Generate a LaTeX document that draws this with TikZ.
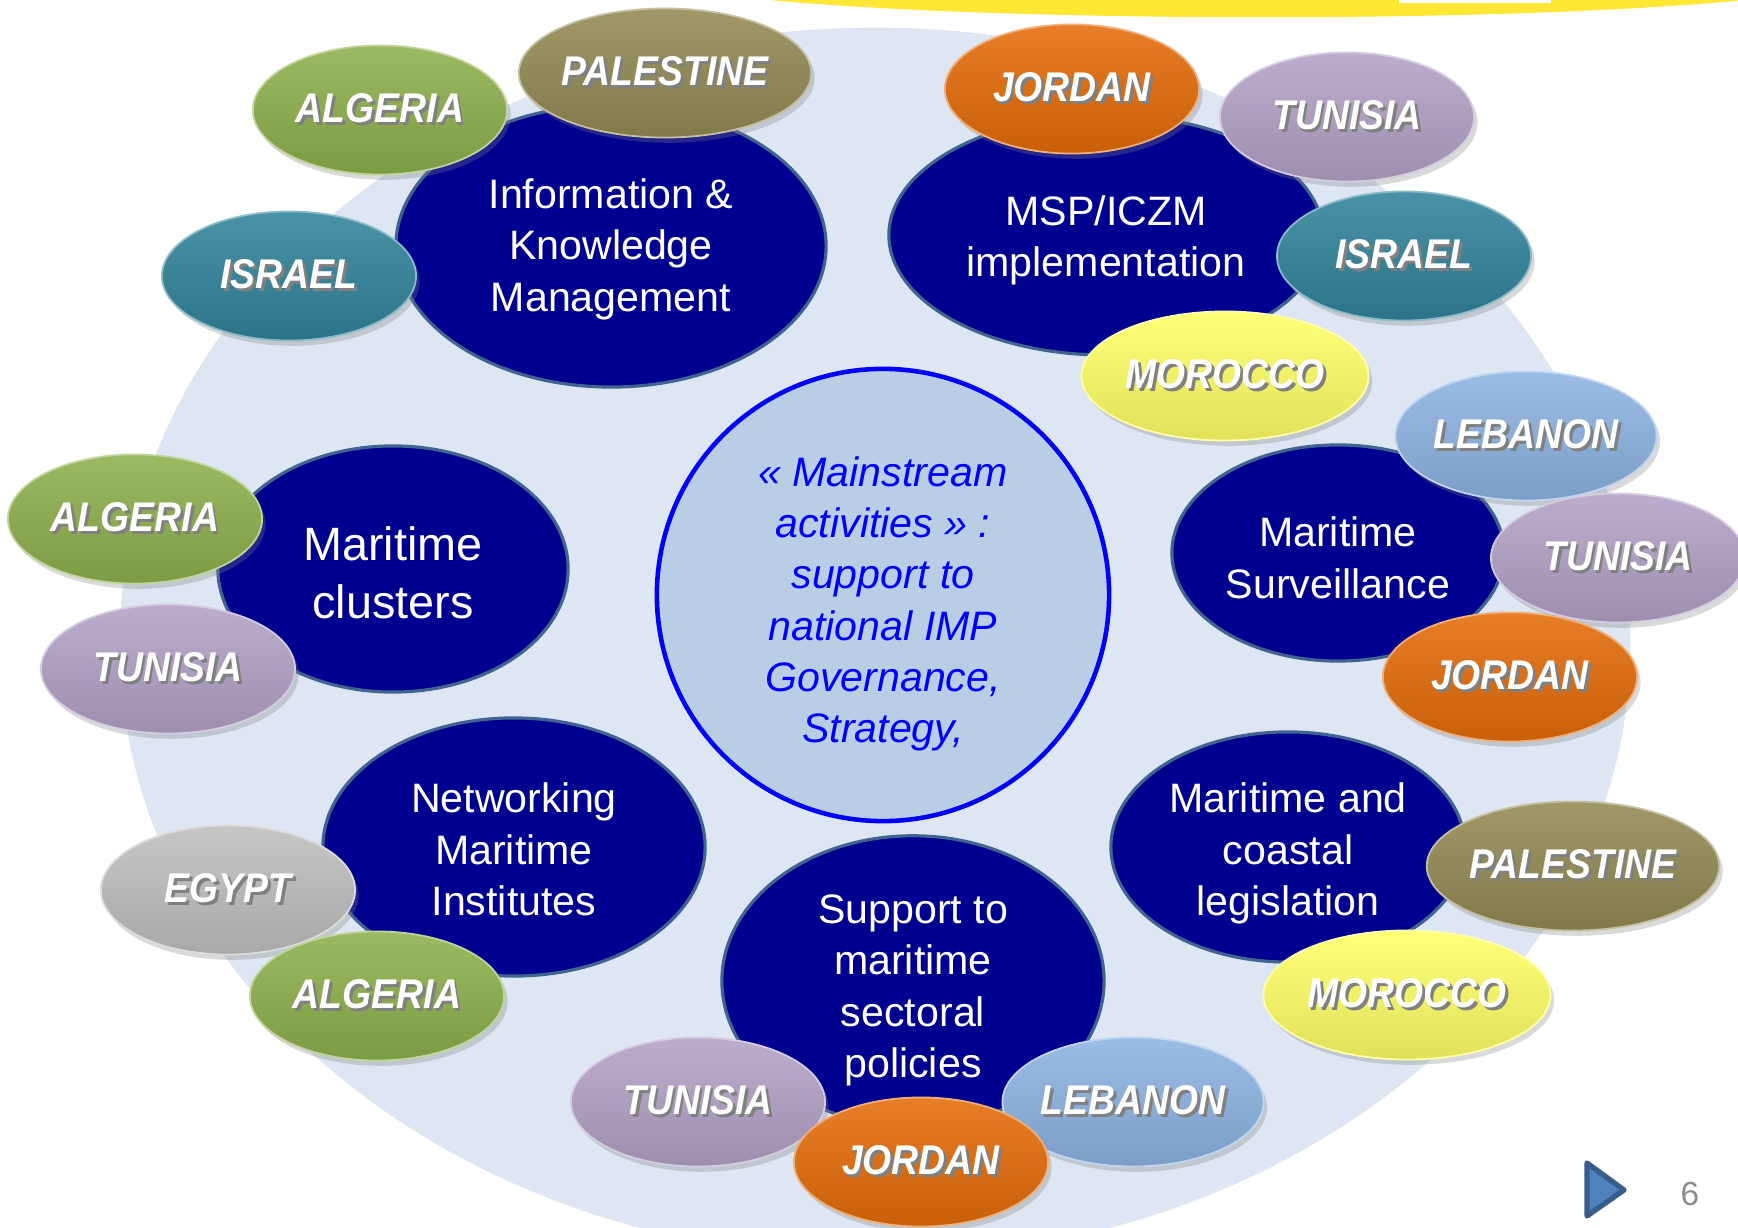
\documentclass[tikz,border=0pt]{standalone}
\usepackage{fontspec}
\setmainfont{Liberation Sans}
\newfontfamily\ctryfont[FakeStretch=0.9]{Liberation Sans}
\usetikzlibrary{shapes.geometric,shadows}
\definecolor{bgblue}{HTML}{DDE6F2}
\definecolor{navy}{HTML}{000090}
\definecolor{navyrim}{HTML}{41638F}
\definecolor{hubfill}{HTML}{B9CDE5}
\definecolor{band}{HTML}{FFE734}
\definecolor{cgreen}{HTML}{8DB04B}
\definecolor{colive}{HTML}{948A54}
\definecolor{cteal}{HTML}{31849B}
\definecolor{corange}{HTML}{E46C0A}
\definecolor{clav}{HTML}{B3A2C7}
\definecolor{cyellow}{HTML}{FFFF66}
\definecolor{clight}{HTML}{8DB3E2}
\definecolor{cgrey}{HTML}{BFBFBF}
\definecolor{playblue}{HTML}{4F81BD}
\definecolor{playrim}{HTML}{385D8A}
\newcommand{\shtxt}[1]{\leavevmode\rlap{\kern0.8pt\raisebox{-0.8pt}{\textcolor{black!50}{#1}}}#1}
\newcommand{\thtext}[2][-2.6pt]{\raisebox{#1}[\height][\depth]{\begin{tabular}{@{}c@{}}#2\end{tabular}}}
\begin{document}
\begin{tikzpicture}[x=0.01cm,y=-0.01cm,
  theme/.style={ellipse,draw=navyrim,line width=0.9pt,fill=navy,text=white,inner sep=0pt,font=\fontsize{11.7}{14.6}\selectfont},
  ctry/.style={ellipse,minimum width=2.54cm,minimum height=1.29cm,inner sep=0pt,top color=#1!88!white,bottom color=#1!88!black,draw=#1!55!white,line width=0.5pt,text=white,font=\ctryfont\bfseries\itshape\fontsize{11.8}{12}\selectfont,drop shadow={opacity=0.3,shadow xshift=1pt,shadow yshift=-1.5pt}},
  wide/.style={minimum width=2.87cm}]
\useasboundingbox (0,0) rectangle (1738,1228);
\clip (0,0) rectangle (1738,1228);
% backdrop
\node[ellipse,fill=bgblue,minimum width=15.1cm,minimum height=12.3cm] (bg) at (875,643) {};
\fill[band] (770,0) .. controls (1000,22) and (1500,24) .. (1745,0) -- (1745,-10) -- (770,-10) -- cycle;
\fill[white] (1399,0) rectangle (1551,3);
% themes
\node[theme,minimum width=4.30cm,minimum height=2.82cm] (info) at (611,246) {\thtext[-1pt]{Information \&\\Knowledge\\Management}};
\node[theme,minimum width=4.34cm,minimum height=2.40cm] (msp) at (1106,235) {\thtext[-1.7pt]{MSP/ICZM\\implementation}};
\node[theme,minimum width=3.50cm,minimum height=2.46cm,font=\fontsize{13.3}{16.4}\selectfont] (clus) at (393,569) {\thtext{Maritime\\clusters}};
\node[theme,minimum width=3.32cm,minimum height=2.16cm] (surv) at (1338,553) {\thtext{Maritime\\Surveillance}};
\node[theme,minimum width=3.82cm,minimum height=2.58cm] (net) at (514,847) {\thtext[-2pt]{Networking\\Maritime\\Institutes}};
\node[theme,minimum width=3.54cm,minimum height=2.30cm] (leg) at (1288,847) {\thtext[-2pt]{Maritime and\\coastal\\legislation}};
\node[theme,minimum width=3.82cm,minimum height=2.54cm] (supp) at (913,981) {\thtext{Support to\\maritime\\sectoral\\policies}};
\node[theme,draw=blue,line width=1.3pt,fill=hubfill,minimum width=4.52cm,minimum height=4.52cm,text=blue,font=\itshape\fontsize{11.7}{14.6}\selectfont] (hub) at (883,595) {\thtext{«~Mainstream\\activities~»~:\\support to\\national IMP\\Governance,\\Strategy,}};
% countries
\node[ctry=colive,wide] (pal1) at (665,73) {\shtxt{PALESTINE}};
\node[ctry=cgreen] (alg1) at (380,110) {\shtxt{ALGERIA}};
\node[ctry=cteal] (isr1) at (289,276) {\shtxt{ISRAEL}};
\node[ctry=corange] (jor1) at (1072,89) {\shtxt{JORDAN}};
\node[ctry=clav] (tun1) at (1347,117) {\shtxt{TUNISIA}};
\node[ctry=cteal] (isr2) at (1404,256) {\shtxt{ISRAEL}};
\node[ctry=cyellow,wide] (mor1) at (1225,376) {\shtxt{MOROCCO}};
\node[ctry=clight] (leb1) at (1526,436) {\shtxt{LEBANON}};
\node[ctry=clav] (tun2) at (1618,558) {\shtxt{TUNISIA}};
\node[ctry=corange] (jor2) at (1510,677) {\shtxt{JORDAN}};
\node[ctry=cgreen] (alg2) at (135,519) {\shtxt{ALGERIA}};
\node[ctry=clav] (tun3) at (168,669) {\shtxt{TUNISIA}};
\node[ctry=colive,wide] (pal2) at (1573,866) {\shtxt{PALESTINE}};
\node[ctry=cyellow,wide] (mor2) at (1407,995) {\shtxt{MOROCCO}};
\node[ctry=cgrey] (egy) at (228,890) {\shtxt{EGYPT}};
\node[ctry=cgreen] (alg3) at (377,996) {\shtxt{ALGERIA}};
\node[ctry=clav] (tun4) at (698,1102) {\shtxt{TUNISIA}};
\node[ctry=clight] (leb2) at (1133,1102) {\shtxt{LEBANON}};
\node[ctry=corange] (jor3) at (921,1162) {\shtxt{JORDAN}};
% page mark
\draw[playrim,fill=playblue,line width=1.5pt,line join=round] (1587,1163) -- (1624,1190) -- (1587,1216) -- cycle;
\node[text=black!45,font=\fontsize{9.5}{11}\selectfont] (pg) at (1690,1194) {6};
\end{tikzpicture}
\end{document}
